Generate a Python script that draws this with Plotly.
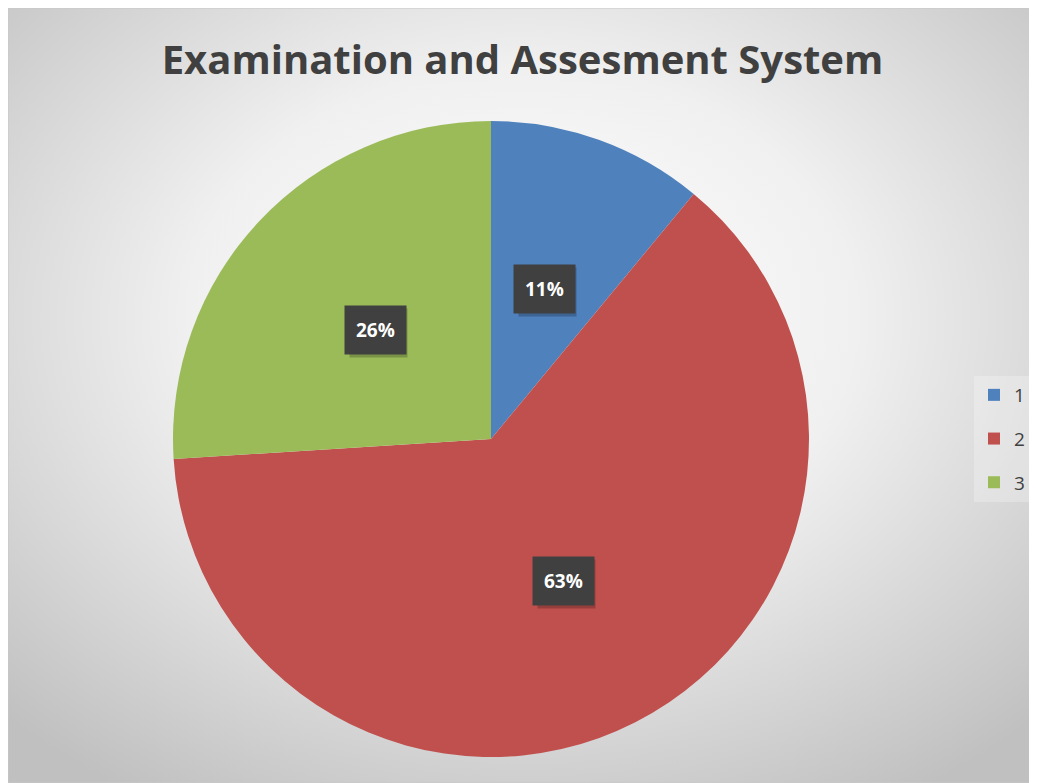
import math
import urllib.parse
import plotly.graph_objects as go

# ---- data ----
categories = ["1", "2", "3"]
values = [11, 63, 26]
colors = ["#4F81BD", "#C0504D", "#9BBB59"]
title_text = "Examination and Assesment System"

# page body adds an 8px offset; figure sized to fit the window
W, H = 1029, 775
cx_px, cy_px, R = 483, 431, 318

fig = go.Figure()
fig.add_trace(go.Pie(
    labels=categories, values=values, sort=False, direction="clockwise",
    rotation=0, marker=dict(colors=colors, line=dict(width=0)),
    textinfo="none", hoverinfo="label+percent", showlegend=False,
    domain=dict(x=[(cx_px - R) / W, (cx_px + R) / W],
                y=[(H - cy_px - R) / H, (H - cy_px + R) / H]),
))

# legend entries via dummy traces
for c, col in zip(categories, colors):
    fig.add_trace(go.Scatter(x=[None], y=[None], mode="markers", name=c,
                             legendgroup=c,
                             marker=dict(symbol="square", size=14, color=col)))

# percent labels at slice midpoints
total = sum(values)
cum = 0
annotations = []
for v in values:
    mid = (cum + v / 2) / total * 2 * math.pi
    cum += v
    px = cx_px + 0.5 * R * math.sin(mid)
    py = cy_px - 0.5 * R * math.cos(mid)
    txt = f"<b>{round(v / total * 100)}%</b>"
    common = dict(xref="paper", yref="paper", x=px / W, y=1 - py / H,
                  xanchor="center", yanchor="middle",
                  showarrow=False, borderpad=11)
    # soft box shadow (blank text of matching width)
    annotations.append(dict(common, text="&nbsp;" * 7, bgcolor="rgba(0,0,0,0.22)",
                            xshift=3, yshift=-3,
                            font=dict(family="Open Sans", size=19, color="rgba(0,0,0,0)")))
    annotations.append(dict(common, text=txt, bgcolor="#404040",
                            font=dict(family="Open Sans", size=19, color="white")))

svg = ("<svg xmlns='http://www.w3.org/2000/svg' width='1029' height='775'>"
       "<defs><radialGradient id='g' cx='50%' cy='40%' r='72%'>"
       "<stop offset='0' stop-color='#ffffff'/>"
       "<stop offset='0.45' stop-color='#f0f0f0'/>"
       "<stop offset='1' stop-color='#c0c0c0'/>"
       "</radialGradient></defs>"
       "<rect width='1029' height='775' fill='url(#g)'/></svg>")
src = "data:image/svg+xml;charset=utf-8," + urllib.parse.quote(svg)

fig.update_layout(
    width=W, height=H,
    margin=dict(l=0, r=0, t=0, b=0),
    paper_bgcolor="white", plot_bgcolor="rgba(0,0,0,0)",
    xaxis=dict(visible=False), yaxis=dict(visible=False),
    title=dict(text="<b>" + title_text + "</b>", x=0.5, xanchor="center",
               y=1 - 52 / H, yanchor="middle",
               font=dict(family="Open Sans", size=40, color="#404040")),
    legend=dict(x=966 / W, xanchor="left", y=1 - 431 / H, yanchor="middle",
                bgcolor="rgba(255,255,255,0.25)", tracegroupgap=16,
                font=dict(family="Open Sans", size=19, color="#404040"),
                itemsizing="constant"),
    annotations=annotations,
    images=[dict(source=src, xref="paper", yref="paper", x=0, y=1,
                 sizex=1, sizey=1, sizing="stretch",
                 xanchor="left", yanchor="top", layer="below")],
    shapes=[dict(type="rect", xref="paper", yref="paper", x0=0, y0=0,
                 x1=1, y1=1, line=dict(color="#c8c8c8", width=1))],
)

fig.write_html("out.html")
